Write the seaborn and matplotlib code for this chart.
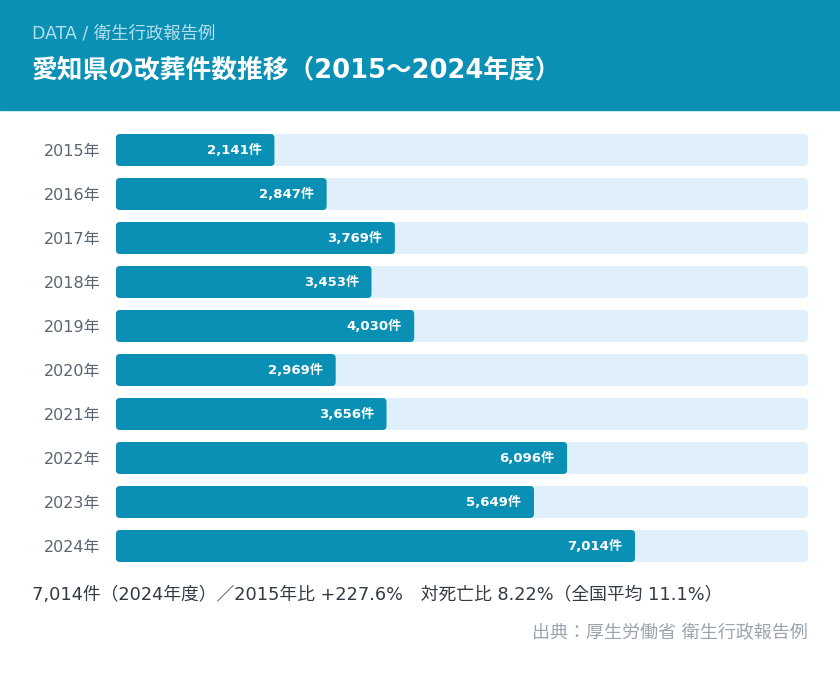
import pandas as pd
import matplotlib.pyplot as plt
import seaborn as sns
from matplotlib.patches import FancyBboxPatch, Rectangle

years = ["2015年", "2016年", "2017年", "2018年", "2019年",
         "2020年", "2021年", "2022年", "2023年", "2024年"]
counts = [2141, 2847, 3769, 3453, 4030, 2969, 3656, 6096, 5649, 7014]
track_max = 9352

title = "愛知県の改葬件数推移（2015～2024年度）"
subtitle = "DATA / 衛生行政報告例"
summary = "7,014件（2024年度）／2015年比 +227.6%　対死亡比 8.22%（全国平均 11.1%）"
source = "出典：厚生労働省 衛生行政報告例"

TEAL = "#0a90b4"
TRACK = "#dff0fb"

sns.set_theme(style="white")
plt.rcParams["font.family"] = ["DejaVu Sans", "Noto Sans CJK JP"]

df = pd.DataFrame({"year": years, "count": counts})
df["track"] = track_max

fig = plt.figure(figsize=(8.4, 6.76), dpi=100)
W, H = 840, 676

# header band
fig.patches.append(Rectangle((0, 1 - 110 / H), 1, 110 / H, transform=fig.transFigure,
                             color=TEAL, zorder=0))
fig.text(32 / W, 1 - 34 / H, subtitle, color="#b5dfec", fontsize=12.5, va="center")
fig.text(32 / W, 1 - 70 / H, title, color="white", fontsize=18.5, fontweight="bold", va="center")

ax = fig.add_axes([116 / W, 1 - 568 / H, 692 / W, 440 / H])
sns.barplot(data=df, y="year", x="track", color=TRACK, width=0.727, ax=ax, saturation=1)
sns.barplot(data=df, y="year", x="count", color=TEAL, width=0.727, ax=ax, saturation=1)
ax.set_xlim(0, track_max)
ax.set_ylim(len(years) - 0.5, -0.5)

# rounded corners
xu = track_max / 692
yu = 1 / 44
for p in list(ax.patches):
    x, y = p.get_x(), p.get_y()
    w, h = p.get_width(), p.get_height()
    fb = FancyBboxPatch((x, y), w, h,
                        boxstyle=f"round,pad=0,rounding_size={4 * xu}",
                        mutation_aspect=yu / xu,
                        facecolor=p.get_facecolor(), edgecolor="none")
    p.remove()
    ax.add_patch(fb)

for i, v in enumerate(counts):
    ax.annotate(f"{v:,}件", (v, i), xytext=(-9, 0), textcoords="offset points",
                ha="right", va="center", color="white", fontsize=9.5, fontweight="bold")

ax.set_xlabel("")
ax.set_ylabel("")
ax.set_xticks([])
ax.tick_params(axis="y", length=0, pad=11, labelsize=11.5, labelcolor="#5a6472")
for s in ax.spines.values():
    s.set_visible(False)

fig.text(32 / W, 1 - 595 / H, summary, color="#333a44", fontsize=12.8, va="center")
fig.text(808 / W, 1 - 633 / H, source, color="#9aa3b0", fontsize=13, va="center", ha="right")

fig.savefig("out.png", dpi=100)
